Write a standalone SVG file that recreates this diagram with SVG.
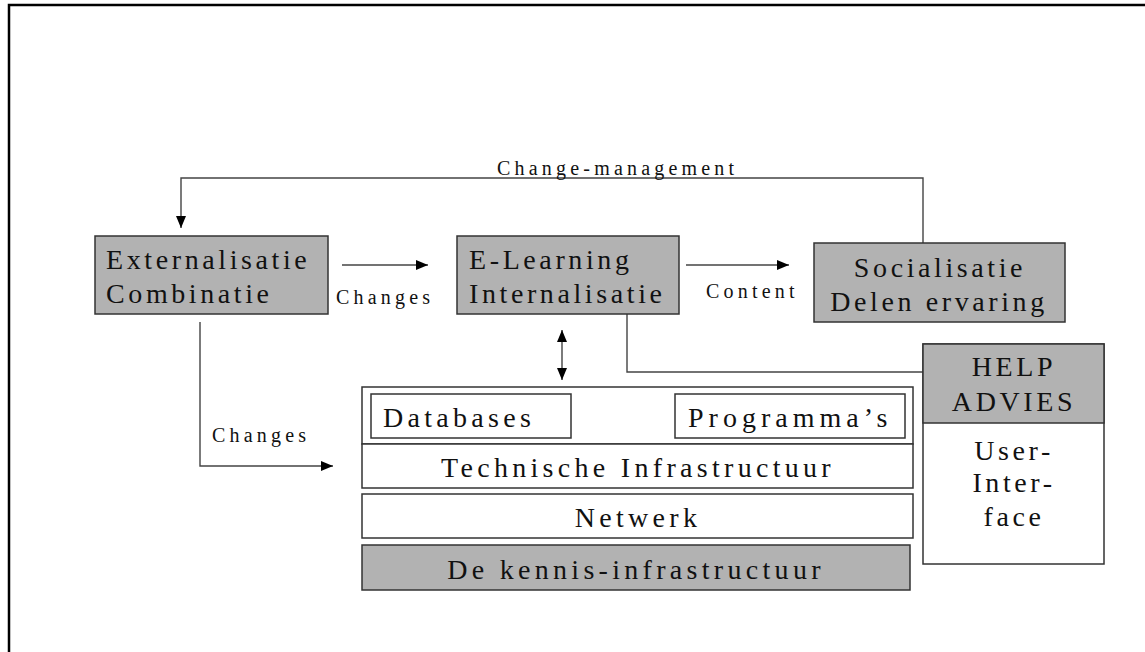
<svg xmlns="http://www.w3.org/2000/svg" width="1145" height="652" viewBox="0 0 1145 652">
  <style>
    .frame { fill: none; stroke: #000; stroke-width: 2.5; }
    .box { fill: #b2b2b2; stroke: #333; stroke-width: 1.5; }
    .plain { fill: #fff; stroke: #333; stroke-width: 1.5; }
    .wire { fill: none; stroke: #444; stroke-width: 1.4; }
    .t { font-family: 'Liberation Serif', 'DejaVu Serif', serif; fill: #111; }
    .big { font-size: 28px; letter-spacing: 3.6px; }
    .wide { letter-spacing: 4.3px; }
    .wider { letter-spacing: 5px; }
    .small { font-size: 20px; letter-spacing: 4.2px; }
    .mid { text-anchor: middle; }
  </style>
  <defs>
    <marker id="head" viewBox="0 0 12 10" refX="12" refY="5" markerWidth="12" markerHeight="10" markerUnits="userSpaceOnUse" orient="auto-start-reverse">
      <path d="M0,0 L12,5 L0,10 Z" fill="#000"/>
    </marker>
  </defs>

  <rect width="1145" height="652" fill="#fff"/>
  <!-- outer frame: top and left edges only -->
  <path class="frame" d="M9,652 V5 H1145"/>

  <g id="connectors">
    <!-- change-management loop back to Externalisatie -->
    <path class="wire" d="M923,243 V178 H181 V228" marker-end="url(#head)"/>
    <text class="t small" x="497" y="175">Change-management</text>
    <!-- Externalisatie to E-Learning -->
    <path class="wire" d="M342,265 H428" marker-end="url(#head)"/>
    <text class="t small" x="336" y="304">Changes</text>
    <!-- E-Learning to Socialisatie -->
    <path class="wire" d="M686,265 H789" marker-end="url(#head)"/>
    <text class="t small" x="706" y="298">Content</text>
    <!-- Externalisatie down to the infrastructure -->
    <path class="wire" d="M200,322 V466 H333" marker-end="url(#head)"/>
    <text class="t small" x="212" y="442">Changes</text>
    <!-- E-Learning to infrastructure, two-way -->
    <path class="wire" d="M562,330 V380" marker-start="url(#head)" marker-end="url(#head)"/>
    <!-- E-Learning to HELP / ADVIES -->
    <path class="wire" d="M627,314 V372 H923"/>
    <!-- Databases to Programma's, two-way -->
    <path class="wire" d="M591,416 H647" marker-start="url(#head)" marker-end="url(#head)"/>
  </g>

  <g id="externalisatie">
    <rect class="box" x="95" y="236" width="233" height="78"/>
    <text class="t big" x="106" y="269">Externalisatie</text>
    <text class="t big" x="106" y="303">Combinatie</text>
  </g>

  <g id="e-learning">
    <rect class="box" x="457" y="236" width="222" height="78"/>
    <text class="t big" x="469" y="269">E-Learning</text>
    <text class="t big" x="469" y="303">Internalisatie</text>
  </g>

  <g id="socialisatie">
    <rect class="box" x="814" y="243" width="251" height="79"/>
    <text class="t big mid" x="940" y="277">Socialisatie</text>
    <text class="t big mid" x="939" y="311">Delen ervaring</text>
  </g>

  <g id="programma-laag">
    <rect class="plain" x="362" y="387" width="551" height="57"/>
    <g id="databases">
      <rect class="plain" x="371" y="394" width="200" height="44"/>
      <text class="t big wide" x="383" y="427">Databases</text>
    </g>
    <g id="programmas">
      <rect class="plain" x="675" y="394" width="230" height="44"/>
      <text class="t big wider" x="688" y="427">Programma’s</text>
    </g>
  </g>

  <g id="technische-infrastructuur">
    <rect class="plain" x="362" y="444" width="551" height="44"/>
    <text class="t big wide mid" x="638" y="477">Technische Infrastructuur</text>
  </g>

  <g id="netwerk">
    <rect class="plain" x="362" y="494" width="551" height="44"/>
    <text class="t big wide mid" x="638" y="527">Netwerk</text>
  </g>

  <g id="kennis-infrastructuur">
    <rect class="box" x="362" y="545" width="548" height="45"/>
    <text class="t big wide mid" x="636" y="579">De kennis-infrastructuur</text>
  </g>

  <g id="help-advies">
    <rect class="plain" x="923" y="344" width="181" height="220"/>
    <rect class="box" x="923" y="344" width="181" height="79"/>
    <text class="t big mid" x="1014" y="376">HELP</text>
    <text class="t big mid" x="1014" y="411">ADVIES</text>
    <text class="t big mid" x="1014" y="460">User-</text>
    <text class="t big mid" x="1014" y="492">Inter-</text>
    <text class="t big mid" x="1014" y="526">face</text>
  </g>
</svg>
